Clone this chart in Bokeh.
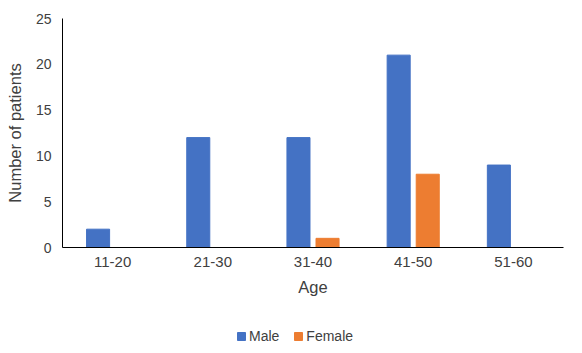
from bokeh.plotting import figure
from bokeh.models import ColumnDataSource, Legend, LegendItem, FactorRange
from bokeh.layouts import column
from bokeh.transform import dodge
from bokeh.embed import file_html
from bokeh.resources import INLINE

categories = ["11-20", "21-30", "31-40", "41-50", "51-60"]
male = [2, 12, 12, 21, 9]
female = [0, 0, 1, 8, 0]
y_ticks = [0, 5, 10, 15, 20, 25]
series_names = ["Male", "Female"]
series_keys = ["male", "female"]
series_colors = ["#4472C4", "#ED7D31"]

source = ColumnDataSource(data=dict(cat=categories, male=male, female=female))

FONT = "Liberation Sans"

p = figure(x_range=FactorRange(*categories), y_range=(0, 25),
           frame_width=501, frame_height=229, output_backend="svg", toolbar_location=None,
           min_border_left=62, min_border_right=19, min_border_top=18, min_border_bottom=53)

p.vbar(x=dodge("cat", -0.145, range=p.x_range), top="male", width=0.23,
       source=source, color=series_colors[0])
p.vbar(x=dodge("cat", 0.145, range=p.x_range), top="female", width=0.23,
       source=source, color=series_colors[1])

p.xgrid.visible = False
p.ygrid.visible = False
p.outline_line_color = None
p.x_range.range_padding = 0
p.x_range.group_padding = 0

p.yaxis.ticker = y_ticks
for ax in (p.xaxis[0], p.yaxis[0]):
    ax.axis_line_color = "black"
    ax.axis_line_width = 1
    ax.major_tick_line_color = None
    ax.minor_tick_line_color = None
    ax.major_tick_out = 0
    ax.major_tick_in = 0
    ax.major_label_text_font = FONT
    ax.major_label_text_font_size = "14px"
    ax.major_label_text_color = "#404040"
    ax.axis_label_text_font = FONT
    ax.axis_label_text_font_size = "16.5px"
    ax.axis_label_text_font_style = "normal"
    ax.axis_label_text_color = "#404040"

p.xaxis.major_label_text_font_size = "15px"
p.xaxis.axis_label = "Age"
p.yaxis.axis_label = "Number of patients"
p.xaxis.major_label_standoff = 9
p.yaxis.major_label_standoff = 11
p.xaxis.axis_label_standoff = 8
p.yaxis.axis_label_standoff = 9

# legend strip below the chart (its bars lie outside its visible range)
p2 = figure(width=582, height=53, x_range=FactorRange(*categories), y_range=(100, 101),
            output_backend="svg", toolbar_location=None,
            x_axis_type=None, y_axis_type=None,
            min_border_left=0, min_border_right=0, min_border_top=0, min_border_bottom=0)
p2.xgrid.visible = False
p2.ygrid.visible = False
p2.outline_line_color = None

items = []
for name, key, col in zip(series_names, series_keys, series_colors):
    r = p2.vbar(x="cat", top=key, width=0.23, source=source, color=col)
    items.append(LegendItem(label=name, renderers=[r]))

legend = Legend(items=items, orientation="horizontal", location=(174, 9),
                glyph_width=10, glyph_height=10, label_standoff=3, spacing=14,
                label_text_font=FONT, label_text_font_size="14px", label_text_color="#404040",
                border_line_color=None, background_fill_alpha=0, padding=4, margin=0)
p2.add_layout(legend, "center")

open("out.html", "w").write(file_html(column(p, p2, spacing=0), INLINE))
